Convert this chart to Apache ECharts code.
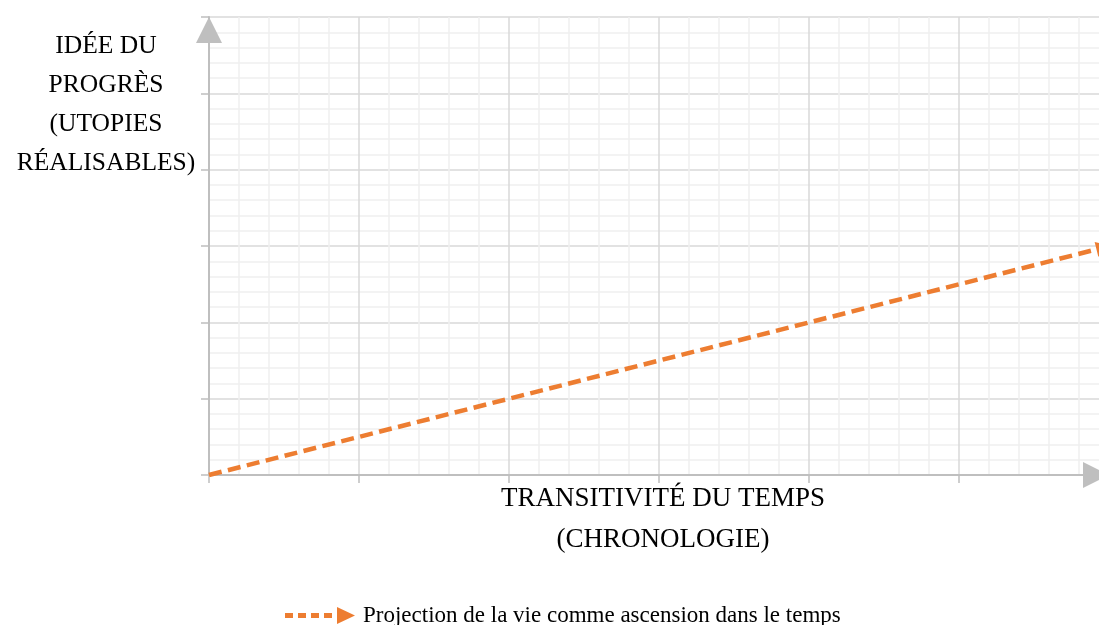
<!DOCTYPE html>
<html><head><meta charset="utf-8">
<script src="https://cdn.jsdelivr.net/npm/echarts@6/dist/echarts.min.js"></script>
<style>html,body{margin:0;padding:0;background:#fff;overflow:hidden;width:1099px;height:625px}#c{width:1109px;height:625px}</style>
</head><body><div id="c"></div>
<script>
const seriesName = 'Projection de la vie comme ascension dans le temps';
const xValues = [0, 5.965];
const yValues = [0, 2.98];
const xRange = [0, 6];
const yRange = [0, 6];
const yTitle = 'IDÉE DU\nPROGRÈS\n(UTOPIES\nRÉALISABLES)';
const xTitle = 'TRANSITIVITÉ DU TEMPS\n(CHRONOLOGIE)';

const FONT = '"Liberation Serif", "DejaVu Serif", serif';
const axisGray = '#BFBFBF';
const chart = echarts.init(document.getElementById('c'));
const coords = xValues.map((x, i) => [x, yValues[i]]);
const legendIcon = 'path://M0 6h8v5h-8z M13 6h8v5h-8z M26 6h8v5h-8z M39 6h8v5h-8z M52 0L70 8.5L52 17z';

function axisCommon(min, max) {
  return {
    type: 'value', min: min, max: max, interval: 1,
    axisLabel: {show: false},
    axisTick: {show: true, length: 8, lineStyle: {color: axisGray, width: 1.5}},
    minorTick: {show: false, splitNumber: 5},
    splitLine: {show: true, lineStyle: {color: '#D9D9D9', width: 1.5}},
    minorSplitLine: {show: true, lineStyle: {color: '#EFEFEF', width: 1.5}},
    axisLine: {show: true, lineStyle: {color: axisGray, width: 2},
      symbol: ['none', 'triangle'], symbolSize: [26, 26], symbolOffset: [0, -13]}
  };
}

chart.setOption({
  animation: false,
  backgroundColor: '#ffffff',
  grid: {left: 209, top: 17, right: 0, bottom: 150, containLabel: false},
  title: [
    {text: yTitle, left: 101, top: 22, textAlign: 'center',
     textStyle: {fontFamily: FONT, fontSize: 25.5, fontWeight: 'normal', color: '#000', lineHeight: 39, align: 'center'}},
    {text: xTitle, left: 658, top: 473, textAlign: 'center',
     textStyle: {fontFamily: FONT, fontSize: 27, fontWeight: 'normal', color: '#000', lineHeight: 41, align: 'center'}}
  ],
  legend: {
    left: 285, top: 604, padding: 0, itemWidth: 70, itemHeight: 17,
    data: [{name: seriesName, icon: legendIcon,
            itemStyle: {color: '#ED7D31', borderWidth: 0},
            lineStyle: {width: 0, opacity: 0}}],
    textStyle: {fontFamily: FONT, fontSize: 23, color: '#000', padding: [0, 0, 0, 3]}
  },
  xAxis: axisCommon(xRange[0], xRange[1]),
  yAxis: axisCommon(yRange[0], yRange[1]),
  series: [{
    name: seriesName,
    type: 'lines',
    coordinateSystem: 'cartesian2d',
    symbol: ['none', 'triangle'],
    symbolSize: 15,
    lineStyle: {color: '#ED7D31', width: 4.5, type: [13, 6.5], opacity: 1},
    itemStyle: {color: '#ED7D31'},
    data: [{coords: coords}]
  }]
});
</script></body></html>
